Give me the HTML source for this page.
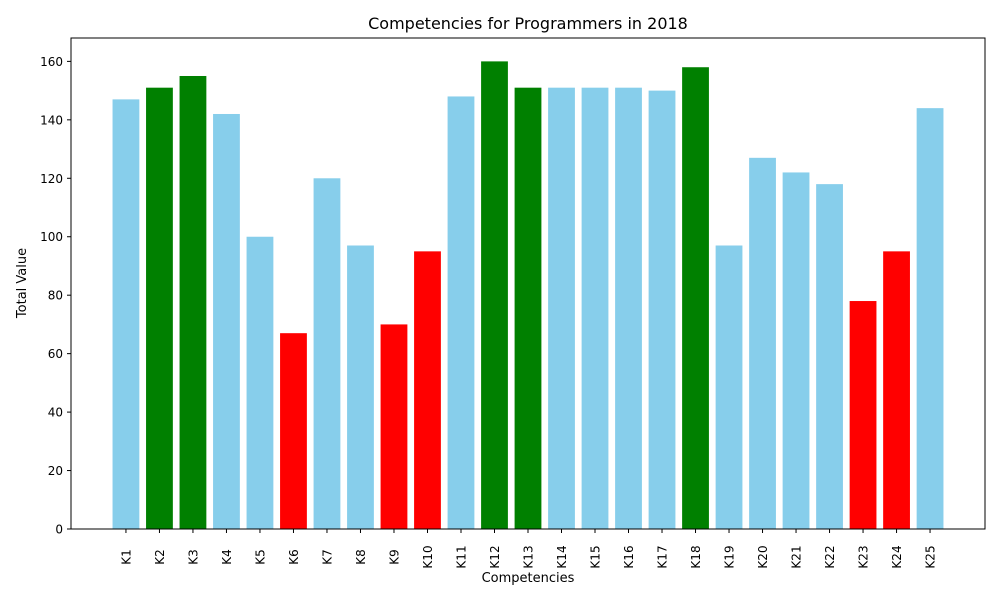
<!DOCTYPE html>
<html><head><meta charset="utf-8"><style>
body{margin:0;background:#fff;font-family:"Liberation Sans","DejaVu Sans",sans-serif}
svg text{font-family:"DejaVu Sans","Liberation Sans",sans-serif;fill:#000}
</style></head><body>
<svg id="chart" width="1000" height="600">
<text x="528" y="29" font-size="16" text-anchor="middle">Competencies for Programmers in 2018</text>
<text x="528" y="582" font-size="13" text-anchor="middle">Competencies</text>
<text transform="translate(26,283) rotate(-90)" font-size="13" text-anchor="middle">Total Value</text>
<g id="bars"></g><g id="axes"></g>
</svg>
<script>
const categories=["K1","K2","K3","K4","K5","K6","K7","K8","K9","K10","K11","K12","K13","K14","K15","K16","K17","K18","K19","K20","K21","K22","K23","K24","K25"];
const values=[147,151,155,142,100,67,120,97,70,95,148,160,151,151,151,151,150,158,97,127,122,118,78,95,144];
const colorGroups=["b","g","g","b","b","r","b","b","r","r","b","g","g","b","b","b","b","g","b","b","b","b","r","r","b"];
const yTicks=[0,20,40,60,80,100,120,140,160];
const L=71,R=985,T=38,B=529,yMax=168;
const xmin=-1.64,xmax=25.64;
const NS="http://www.w3.org/2000/svg";
const sx=i=>L+(i-xmin)/(xmax-xmin)*(R-L);
const sy=v=>B-v/yMax*(B-T);
const cmap={b:"#87ceeb",g:"#008000",r:"#ff0000"};
function mk(t,a,p){const e=document.createElementNS(NS,t);for(const k in a)e.setAttribute(k,a[k]);p.appendChild(e);return e;}
const bars=document.getElementById("bars"),axes=document.getElementById("axes");
const bw=0.8*(R-L)/(xmax-xmin);
values.forEach((v,i)=>{
 const r=mk("rect",{x:sx(i)-bw/2,y:sy(v),width:bw,height:B-sy(v),fill:cmap[colorGroups[i]]},bars);
 
 
 mk("line",{x1:sx(i),x2:sx(i),y1:B,y2:B+4,stroke:"#000"},axes);
 const t=mk("text",{transform:`translate(${sx(i)+4.5},${B+28}) rotate(-90)`,"font-size":12,"text-anchor":"middle"},axes);
 t.textContent=categories[i];
 
 
});
yTicks.forEach(v=>{
 mk("line",{x1:L-4,x2:L,y1:sy(v),y2:sy(v),stroke:"#000"},axes);
 const t=mk("text",{x:L-8,y:sy(v)+4.5,"font-size":12,"text-anchor":"end"},axes);
 t.textContent=v;
 
 
});
const f=mk("rect",{x:L,y:T,width:R-L,height:B-T,fill:"none",stroke:"#000","stroke-width":1},axes);


</script>
</body></html>
